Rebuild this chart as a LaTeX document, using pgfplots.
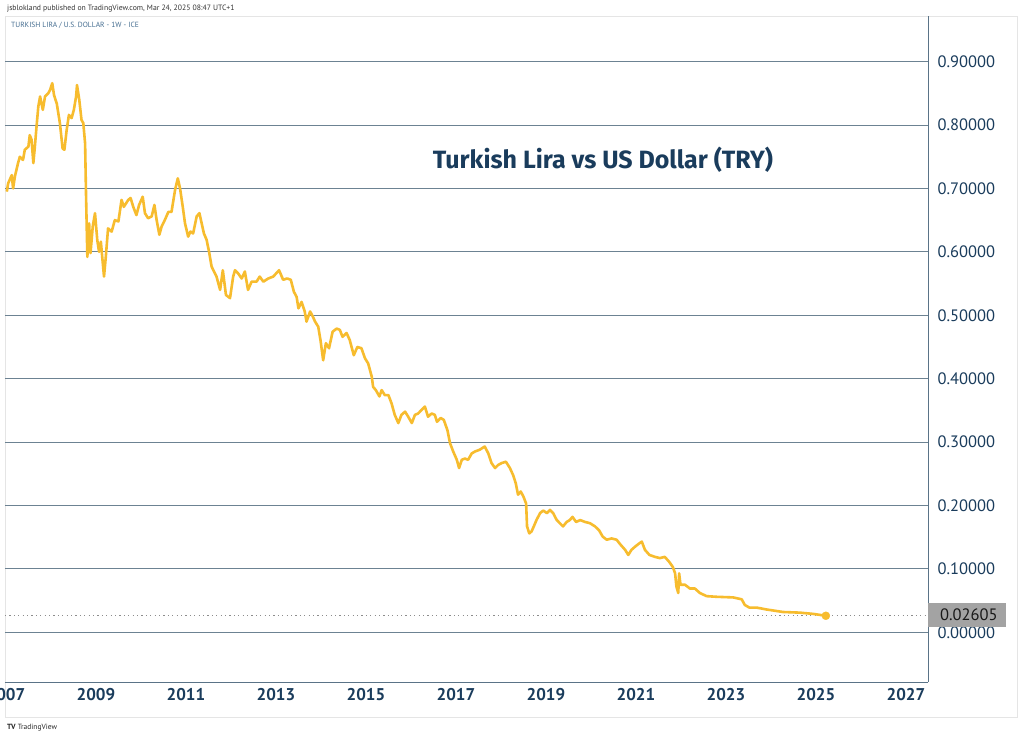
\documentclass[border=0pt]{standalone}
\usepackage{pgfplots}
\pgfplotsset{compat=1.18}
\usepackage{fontspec}
\setmainfont{PT Sans}
\newfontfamily\titlefont{Fira Sans}
\definecolor{tvline}{RGB}{247,188,46}
\definecolor{tvnavy}{RGB}{26,60,92}
\definecolor{tvgrid}{RGB}{108,130,146}
\definecolor{tvaxis}{RGB}{90,115,135}
\definecolor{tvsub}{RGB}{70,110,145}
\begin{document}
\begin{tikzpicture}[x=1pt,y=1pt]
\path[use as bounding box] (0,0) rectangle (1024,739);
\clip (0,0) rectangle (1024,739);
\fill[white] (0,0) rectangle (1024,739);
\draw[black!10, line width=0.8pt] (5,22) rectangle (1017,723);
\begin{axis}[
  at={(5pt,57pt)}, anchor=south west,
  width=923pt, height=666pt, scale only axis,
  xmin=2006.98, xmax=2027.49, ymin=-0.0784, ymax=0.972,
  axis x line*=bottom, axis y line*=right,
  axis line style={tvaxis, line width=0.9pt, -},
  xtick={2007,2009,2011,2013,2015,2017,2019,2021,2023,2025,2027},
  xticklabels={2007,2009,2011,2013,2015,2017,2019,2021,2023,2025,2027},
  ytick={0,0.1,0.2,0.3,0.4,0.5,0.6,0.7,0.8,0.9},
  major tick length=0pt,
  ymajorgrids, grid style={tvgrid, line width=0.8pt},
  /pgf/number format/assume math mode=true,
  yticklabel style={/pgf/number format/.cd, fixed, fixed zerofill, precision=5, /tikz/.cd,
     anchor=west, xshift=6pt, font=\fontsize{16.5}{18}\selectfont, text=tvnavy},
  xticklabel style={font=\fontsize{17}{19}\selectfont\bfseries, text=tvnavy, yshift=-3pt},
  clip=true,
]
\addplot[black!45, line width=1.2pt, dash pattern=on 1.2pt off 3.2pt] coordinates {(2006.98,0.02605) (2027.49,0.02605)};
\addplot[tvline, line width=2.6pt, line join=round] coordinates {
(2007.02,0.695) (2007.05,0.708) (2007.13,0.721) (2007.16,0.700) (2007.20,0.719)
(2007.27,0.740) (2007.31,0.750) (2007.38,0.745) (2007.42,0.761) (2007.50,0.766)
(2007.53,0.784) (2007.57,0.777) (2007.61,0.740) (2007.64,0.763) (2007.68,0.797)
(2007.72,0.829) (2007.76,0.845) (2007.82,0.824) (2007.87,0.845) (2007.94,0.850)
(2007.98,0.855) (2008.03,0.866) (2008.07,0.847) (2008.13,0.834) (2008.20,0.803)
(2008.26,0.763) (2008.30,0.761) (2008.35,0.792) (2008.40,0.816) (2008.46,0.811)
(2008.51,0.824) (2008.56,0.845) (2008.58,0.863) (2008.63,0.840) (2008.68,0.808)
(2008.72,0.803) (2008.76,0.771) (2008.78,0.692) (2008.81,0.592) (2008.85,0.645)
(2008.88,0.598) (2008.93,0.640) (2008.98,0.661) (2009.03,0.619) (2009.07,0.600)
(2009.11,0.616) (2009.18,0.561) (2009.22,0.592) (2009.27,0.637) (2009.35,0.632)
(2009.42,0.650) (2009.50,0.648) (2009.57,0.682) (2009.62,0.671) (2009.72,0.682)
(2009.77,0.685) (2009.83,0.671) (2009.90,0.658) (2009.96,0.674) (2010.04,0.687)
(2010.09,0.661) (2010.16,0.653) (2010.24,0.656) (2010.30,0.674) (2010.35,0.650)
(2010.41,0.627) (2010.46,0.640) (2010.53,0.650) (2010.61,0.663) (2010.68,0.663)
(2010.76,0.698) (2010.82,0.716) (2010.87,0.700) (2010.93,0.671) (2010.98,0.645)
(2011.05,0.624) (2011.10,0.632) (2011.16,0.629) (2011.24,0.656) (2011.30,0.661)
(2011.35,0.645) (2011.40,0.629) (2011.46,0.619) (2011.52,0.598) (2011.57,0.577)
(2011.61,0.571) (2011.68,0.561) (2011.76,0.540) (2011.82,0.571) (2011.89,0.532)
(2011.98,0.527) (2012.05,0.561) (2012.09,0.571) (2012.16,0.566) (2012.24,0.558)
(2012.31,0.569) (2012.38,0.540) (2012.46,0.553) (2012.57,0.553) (2012.64,0.561)
(2012.72,0.553) (2012.83,0.558) (2012.94,0.561) (2013.07,0.571) (2013.16,0.556)
(2013.25,0.558) (2013.33,0.556) (2013.40,0.537) (2013.46,0.529) (2013.50,0.511)
(2013.57,0.521) (2013.64,0.506) (2013.68,0.490) (2013.76,0.506) (2013.82,0.498)
(2013.87,0.490) (2013.94,0.482) (2013.99,0.461) (2014.05,0.429) (2014.11,0.456)
(2014.18,0.448) (2014.26,0.474) (2014.35,0.479) (2014.42,0.477) (2014.48,0.466)
(2014.57,0.472) (2014.64,0.461) (2014.73,0.437) (2014.81,0.450) (2014.90,0.448)
(2014.98,0.432) (2015.05,0.424) (2015.13,0.403) (2015.16,0.387) (2015.22,0.382)
(2015.30,0.372) (2015.35,0.382) (2015.42,0.374) (2015.50,0.374) (2015.57,0.361)
(2015.64,0.343) (2015.72,0.330) (2015.79,0.343) (2015.87,0.348) (2015.94,0.340)
(2016.02,0.330) (2016.09,0.343) (2016.16,0.345) (2016.24,0.351) (2016.31,0.356)
(2016.38,0.340) (2016.46,0.345) (2016.53,0.343) (2016.58,0.332) (2016.66,0.338)
(2016.73,0.335) (2016.81,0.319) (2016.87,0.298) (2016.94,0.285) (2017.02,0.272)
(2017.07,0.259) (2017.13,0.272) (2017.20,0.274) (2017.27,0.272) (2017.35,0.282)
(2017.42,0.285) (2017.53,0.288) (2017.64,0.293) (2017.72,0.282) (2017.79,0.267)
(2017.87,0.259) (2017.94,0.264) (2018.02,0.267) (2018.11,0.269) (2018.20,0.259)
(2018.27,0.248) (2018.33,0.235) (2018.38,0.217) (2018.44,0.222) (2018.50,0.214)
(2018.56,0.203) (2018.58,0.167) (2018.63,0.156) (2018.68,0.159) (2018.73,0.167)
(2018.79,0.177) (2018.87,0.188) (2018.94,0.192) (2019.02,0.188) (2019.09,0.193)
(2019.16,0.188) (2019.24,0.177) (2019.31,0.172) (2019.38,0.167) (2019.46,0.174)
(2019.53,0.177) (2019.59,0.182) (2019.67,0.174) (2019.76,0.177) (2019.87,0.174)
(2019.98,0.172) (2020.09,0.167) (2020.18,0.161) (2020.26,0.151) (2020.35,0.146)
(2020.46,0.148) (2020.57,0.146) (2020.66,0.138) (2020.76,0.130) (2020.83,0.122)
(2020.90,0.130) (2020.98,0.135) (2021.07,0.140) (2021.13,0.143) (2021.20,0.130)
(2021.30,0.122) (2021.42,0.119) (2021.53,0.117) (2021.64,0.119) (2021.74,0.111)
(2021.82,0.103) (2021.87,0.093) (2021.90,0.072) (2021.94,0.062) (2021.96,0.093)
(2021.99,0.075) (2022.09,0.075) (2022.20,0.069) (2022.31,0.069) (2022.42,0.062)
(2022.57,0.057) (2022.79,0.056) (2023.16,0.055) (2023.35,0.052) (2023.42,0.043)
(2023.52,0.039) (2023.68,0.039) (2023.90,0.036) (2024.27,0.032) (2024.64,0.031)
(2024.94,0.029) (2025.22,0.02605)
};
\addplot[only marks, mark=*, mark size=4pt, tvline] coordinates {(2025.22,0.02605)};
\end{axis}
% price label box
\fill[black!36] (928,112) rectangle (1006,136);
\node[anchor=west, inner sep=0pt, text=black!90, font=\fontsize{16.5}{18}\selectfont] at (940,124) {0.02605};
% title
\node[text=tvnavy, font=\titlefont\fontsize{25}{29}\selectfont\bfseries] at (603,579) {Turkish Lira vs US Dollar (TRY)};
% header
\node[anchor=west, inner sep=0pt, text=black!80, font=\fontsize{7.7}{9}\selectfont] at (7,730) {jsblokland published on TradingView.com, Mar 24, 2025 08:47 UTC+1};
\node[anchor=west, inner sep=0pt, text=tvsub, font=\fontsize{7.5}{9}\selectfont] at (11,714) {TURKISH LIRA / U.S. DOLLAR - 1W - ICE};
% footer
\node[anchor=west, inner sep=0pt, text=black!85, font=\fontsize{7.5}{9}\selectfont] at (7,11) {\textbf{TV}\hspace{2pt}TradingView};
\end{tikzpicture}
\end{document}
